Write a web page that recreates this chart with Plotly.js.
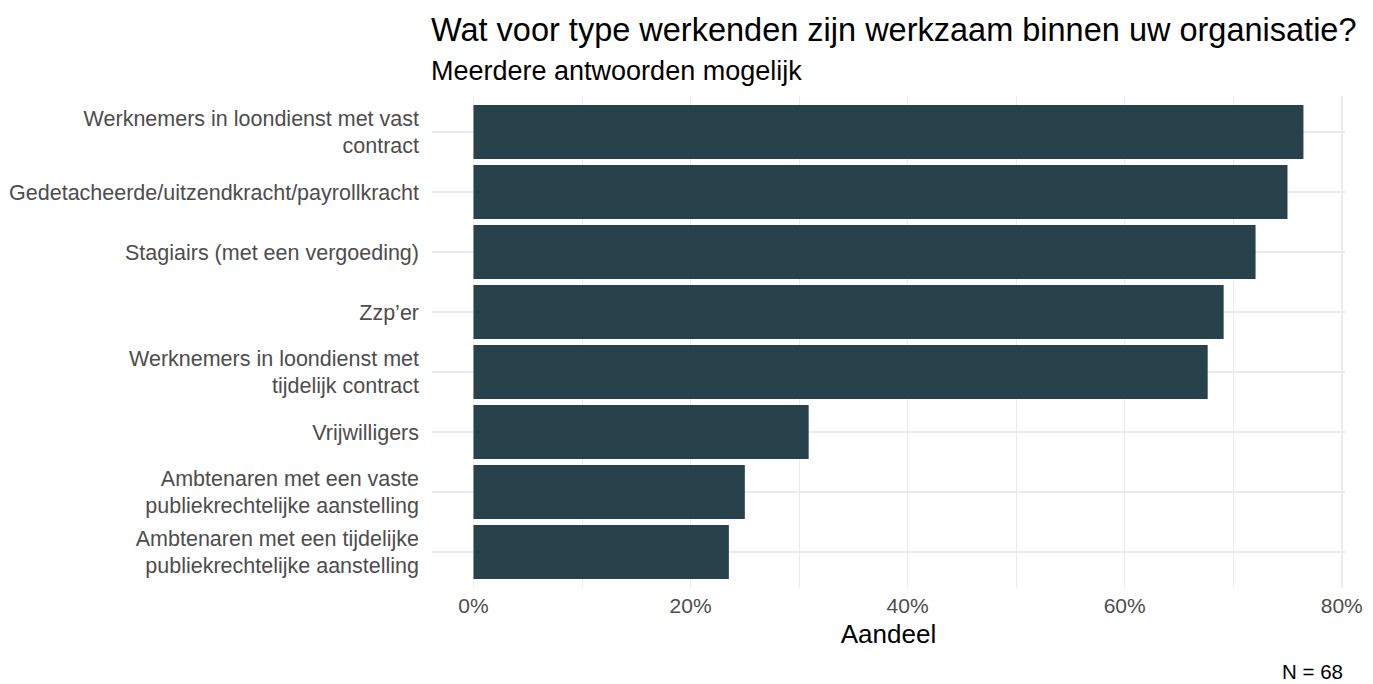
<!DOCTYPE html>
<html>
<head>
<meta charset="utf-8">
<script src="https://cdn.plot.ly/plotly-3.0.1.min.js"></script>
<style>html,body{margin:0;padding:0;background:#fff;}#chart{width:1373px;height:684px;}</style>
</head>
<body>
<div id="chart"></div>
<script>
const categories = [
  "Werknemers in loondienst met vast<br>contract",
  "Gedetacheerde/uitzendkracht/payrollkracht",
  "Stagiairs (met een vergoeding)",
  "Zzp’er",
  "Werknemers in loondienst met<br>tijdelijk contract",
  "Vrijwilligers",
  "Ambtenaren met een vaste<br>publiekrechtelijke aanstelling",
  "Ambtenaren met een tijdelijke<br>publiekrechtelijke aanstelling"
];
const counts = [52, 51, 49, 47, 46, 21, 17, 16];
const N = 68;
const shares = counts.map(c => c / N);
const xTickVals = [0, 0.2, 0.4, 0.6, 0.8];
const xTickText = ["0%", "20%", "40%", "60%", "80%"];
const titleText = "Wat voor type werkenden zijn werkzaam binnen uw organisatie?";
const subtitleText = "Meerdere antwoorden mogelijk";
const captionText = "N = " + N;

const trace = {
  type: "bar",
  orientation: "h",
  y: categories,
  x: shares,
  width: 0.9,
  marker: {color: "#27424A", line: {width: 0}},
  hoverinfo: "x+y"
};

const FONT = "Liberation Sans, Arial, sans-serif";
const layout = {
  width: 1373, height: 684,
  margin: {l: 432, r: 28, t: 96, b: 96},
  paper_bgcolor: "#ffffff",
  plot_bgcolor: "#ffffff",
  font: {family: FONT, color: "#4D4D4D", size: 21},
  showlegend: false,
  xaxis: {
    range: [-0.03824, 0.8030],
    tickvals: xTickVals, ticktext: xTickText,
    showgrid: true, gridcolor: "#EBEBEB", gridwidth: 1.6,
    minor: {tickvals: [0.1, 0.3, 0.5, 0.7], showgrid: true, gridcolor: "#EBEBEB", gridwidth: 1},
    zeroline: false, showline: false, ticks: "",
    ticklabelstandoff: 3,
    tickfont: {size: 21, color: "#4D4D4D"},
    title: {text: "Aandeel", font: {size: 26, color: "#000000"}, standoff: 8},
    fixedrange: true
  },
  yaxis: {
    categoryorder: "array", categoryarray: categories,
    range: [7.6, -0.6],
    showgrid: true, gridcolor: "#EBEBEB", gridwidth: 1.6,
    zeroline: false, showline: false, ticks: "",
    ticklabelstandoff: 12,
    tickfont: {size: 21.5, color: "#4D4D4D"},
    fixedrange: true
  },
  annotations: [
    {text: titleText, xref: "paper", yref: "paper", x: 0, y: (588 - 30) / 492,
     xanchor: "left", yanchor: "middle", showarrow: false, xshift: -3,
     font: {size: 32.5, color: "#000000", family: FONT}},
    {text: subtitleText, xref: "paper", yref: "paper", x: 0, y: (588 - 71) / 492,
     xanchor: "left", yanchor: "middle", showarrow: false, xshift: -3,
     font: {size: 27, color: "#000000", family: FONT}},
    {text: captionText, xref: "paper", yref: "paper", x: 1.0, y: (588 - 671) / 492,
     xanchor: "right", yanchor: "middle", showarrow: false, xshift: 0,
     font: {size: 20.5, color: "#000000", family: FONT}}
  ]
};

Plotly.newPlot("chart", [trace], layout, {displayModeBar: false, staticPlot: true});
</script>
</body>
</html>
